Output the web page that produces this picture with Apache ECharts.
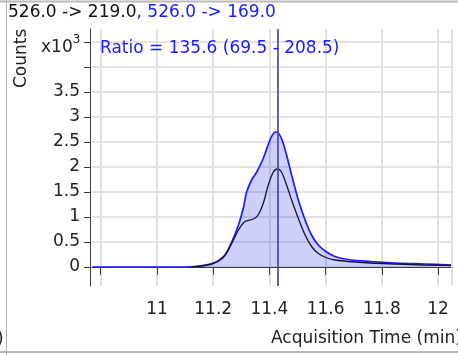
<!DOCTYPE html>
<html>
<head>
<meta charset="utf-8">
<script src="https://cdn.jsdelivr.net/npm/echarts@6/dist/echarts.min.js"></script>
<style>
  html, body { margin: 0; padding: 0; background: #ffffff; }
  #chart { width: 458px; height: 355px; }
</style>
</head>
<body>
<div id="chart"></div>
<script>
// Qualifier transition 526.0 -> 169.0 (filled trace), counts x10^3
const time169 = [10.77, 11.10, 11.15, 11.19, 11.217, 11.242, 11.266, 11.29, 11.307, 11.319, 11.337, 11.355, 11.378, 11.402, 11.417, 11.426, 11.443, 11.461, 11.479, 11.503, 11.527, 11.55, 11.574, 11.601, 11.633, 11.68, 11.758, 11.85, 11.95, 12.05];
const counts169 = [0, 0, 0.02, 0.06, 0.12, 0.24, 0.5, 0.84, 1.17, 1.5, 1.74, 1.9, 2.17, 2.54, 2.69, 2.70, 2.57, 2.24, 1.84, 1.34, 0.94, 0.64, 0.44, 0.31, 0.21, 0.15, 0.11, 0.08, 0.06, 0.04];

// Quantifier transition 526.0 -> 219.0 (outline trace), counts x10^3
const time219 = [11.12, 11.16, 11.19, 11.217, 11.242, 11.266, 11.29, 11.313, 11.343, 11.36, 11.378, 11.396, 11.414, 11.429, 11.443, 11.461, 11.479, 11.503, 11.527, 11.55, 11.574, 11.601, 11.633, 11.68, 11.758, 11.85, 11.95, 12.05];
const counts219 = [0, 0.02, 0.05, 0.11, 0.23, 0.47, 0.74, 0.91, 0.96, 1.04, 1.27, 1.64, 1.9, 1.96, 1.9, 1.64, 1.34, 0.97, 0.64, 0.41, 0.27, 0.19, 0.14, 0.11, 0.08, 0.06, 0.04, 0.03];

// Retention time marker
const apexTime = 11.427;

// Axis ticks and labels
const xTickValues = [10.8, 11, 11.2, 11.4, 11.6, 11.8, 12];
const xLabelValues = [11, 11.2, 11.4, 11.6, 11.8, 12];
const yTickValues = [0, 0.5, 1, 1.5, 2, 2.5, 3, 3.5, 4, 4.5];
const yLabelValues = [0, 0.5, 1, 1.5, 2, 2.5, 3, 3.5];

const titleQuant = '526.0 -> 219.0';
const titleQual = ', 526.0 -> 169.0';
const ratioText = 'Ratio = 135.6 (69.5 - 208.5)';

const FONT = 'DejaVu Sans';
const zip = (xs, ys) => xs.map((x, i) => [x, ys[i]]);

const chart = echarts.init(document.getElementById('chart'), null, { renderer: 'canvas' });

chart.setOption({
  backgroundColor: '#ffffff',
  animation: false,
  grid: { left: 92, right: 5, top: 29, bottom: 69, containLabel: false },
  xAxis: {
    type: 'value',
    min: 10.769,
    max: 12.053,
    offset: 3,
    axisLine: { show: true, lineStyle: { color: '#3a3a3a', width: 1 } },
    axisTick: { show: true, length: 8, inside: false, customValues: xTickValues, lineStyle: { color: '#3a3a3a' } },
    axisLabel: {
      customValues: xLabelValues, margin: 12, color: '#222',
      fontFamily: FONT, fontSize: 17,
      formatter: v => String(+v.toFixed(1))
    },
    splitLine: { show: true, lineStyle: { color: '#e2e2e2', width: 2 } }
  },
  yAxis: {
    type: 'value',
    min: -0.38,
    max: 4.76,
    offset: 2,
    axisLine: { show: true, lineStyle: { color: '#3a3a3a', width: 1 } },
    axisTick: { show: true, length: 6, inside: false, customValues: yTickValues, lineStyle: { color: '#3a3a3a' } },
    axisLabel: {
      customValues: yLabelValues, margin: 10, color: '#222',
      fontFamily: FONT, fontSize: 17,
      formatter: v => String(+v.toFixed(1))
    },
    splitLine: { show: true, lineStyle: { color: '#e2e2e2', width: 2 } }
  },
  series: [
    {
      name: '526.0 -> 169.0',
      type: 'line',
      data: zip(time169, counts169),
      smooth: 0.3,
      showSymbol: false,
      lineStyle: { color: '#1c1cff', width: 1.7 },
      areaStyle: { color: 'rgba(40, 40, 235, 0.32)' },
      z: 2,
      markLine: {
        silent: true,
        symbol: ['none', 'none'],
        label: { show: false },
        data: [
          { xAxis: apexTime, lineStyle: { color: 'rgba(70, 70, 180, 0.85)', width: 2, type: 'solid' } },
          { xAxis: 12.053, lineStyle: { color: '#e2e2e2', width: 2, type: 'solid' } }
        ]
      }
    },
    {
      name: '526.0 -> 219.0',
      type: 'line',
      data: zip(time219, counts219),
      smooth: 0.3,
      showSymbol: false,
      lineStyle: { color: '#141430', width: 1.3 },
      z: 3
    }
  ],
  graphic: [
    // panel frame lines
    { type: 'line', z: 50, shape: { x1: 0, y1: 1.5, x2: 458, y2: 1.5 }, style: { stroke: '#b8b8b8', lineWidth: 2 } },
    { type: 'line', z: 50, shape: { x1: 0, y1: 352, x2: 458, y2: 352 }, style: { stroke: '#b8b8b8', lineWidth: 2 } },
    { type: 'line', z: 50, shape: { x1: 6.5, y1: 0, x2: 6.5, y2: 355 }, style: { stroke: '#b0b0b0', lineWidth: 1 } },
    { type: 'text', z: 50, left: -3, top: 331, style: { text: ')', font: '17px "DejaVu Sans"', fill: '#222' } },
    // title
    {
      type: 'text', z: 50, left: 8, top: 4,
      style: {
        text: '{k|' + titleQuant + '}{b|' + titleQual + '}',
        rich: {
          k: { fontFamily: FONT, fontSize: 17, fill: '#111' },
          b: { fontFamily: FONT, fontSize: 17, fill: '#1a1aff' }
        }
      }
    },
    // ratio annotation
    { type: 'text', z: 50, left: 100, top: 40, style: { text: ratioText, font: '17px "DejaVu Sans"', fill: '#1a1aff' } },
    // y axis multiplier
    {
      type: 'text', z: 50, left: 41, top: 34,
      style: {
        text: '{a|x10}{s|3}',
        rich: {
          a: { fontFamily: FONT, fontSize: 17, fill: '#222', verticalAlign: 'bottom', lineHeight: 22 },
          s: { fontFamily: FONT, fontSize: 12, fill: '#222', verticalAlign: 'top', lineHeight: 22 }
        }
      }
    },
    // axis names
    { type: 'text', z: 50, x: 13, y: 88, rotation: Math.PI / 2, style: { text: 'Counts', font: '17px "DejaVu Sans"', fill: '#222' } },
    { type: 'text', z: 50, left: 271, top: 330, style: { text: 'Acquisition Time (min)', font: '17px "DejaVu Sans"', fill: '#222' } }
  ]
});
</script>
</body>
</html>
